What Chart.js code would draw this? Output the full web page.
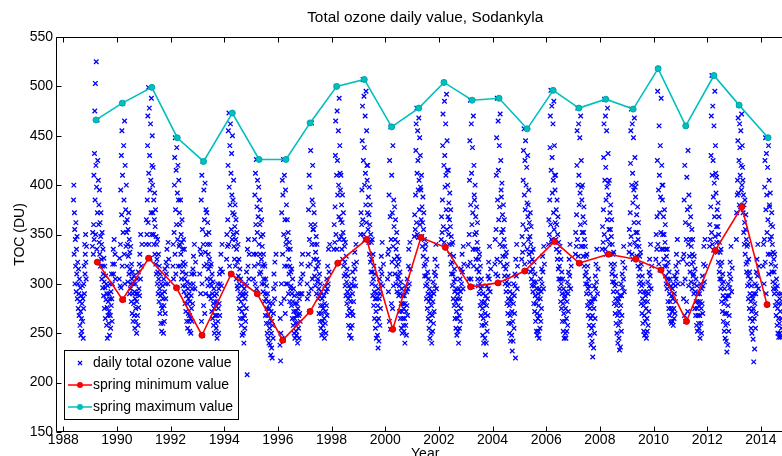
<!DOCTYPE html>
<html>
<head>
<meta charset="utf-8">
<title>Total ozone daily value, Sodankyla</title>
<script src="https://cdn.jsdelivr.net/npm/chart.js@4.4.0/dist/chart.umd.min.js"></script>
<style>
html, body { margin: 0; padding: 0; background: #fff; overflow: hidden; }
#wrap { width: 782px; height: 456px; overflow: hidden; }
canvas { display: block; }
</style>
</head>
<body>
<div id="wrap"><canvas id="myChart" width="800" height="456"></canvas></div>
<script>
// tick labels
const yearTicks = [1988, 1990, 1992, 1994, 1996, 1998, 2000, 2002, 2004, 2006, 2008, 2010, 2012, 2014]
const tocTicks = [150, 200, 250, 300, 350, 400, 450, 500, 550]

// spring minimum / maximum (decimal year, DU)
const springMinYear = [1989.27, 1990.21, 1991.18, 1992.22, 1993.17, 1994.26, 1995.23, 1996.18, 1997.2, 1998.23, 1999.31, 2000.28, 2001.33, 2002.24, 2003.18, 2004.2, 2005.2, 2006.31, 2007.23, 2008.32, 2009.34, 2010.28, 2011.23, 2012.3, 2013.29, 2014.23]
const springMinToc = [322, 284, 326, 296, 248, 310, 290, 243, 272, 321, 345, 254, 347, 337, 297, 301, 313, 343, 321, 330, 325, 314, 262, 334, 378, 279]
const springMaxYear = [1989.22, 1990.2, 1991.3, 1992.25, 1993.23, 1994.3, 1995.3, 1996.3, 1997.2, 1998.19, 1999.22, 2000.24, 2001.25, 2002.19, 2003.24, 2004.24, 2005.29, 2006.26, 2007.22, 2008.22, 2009.24, 2010.17, 2011.2, 2012.25, 2013.19, 2014.27]
const springMaxToc = [466, 483, 499, 448, 424, 473, 426, 426, 463, 500, 507, 459, 478, 504, 486, 488, 457, 496, 478, 487, 477, 518, 460, 511, 481, 448]

// daily total ozone, one row per year, one value every 4 days from the first day
const dailyYears = [1988, 1989, 1990, 1991, 1992, 1993, 1994, 1995, 1996, 1997, 1998, 1999, 2000, 2001, 2002, 2003, 2004, 2005, 2006, 2007, 2008, 2009, 2010, 2011, 2012, 2013, 2014]
const dailyFirstDay = [140, 28, 28, 28, 28, 28, 28, 28, 28, 28, 28, 28, 28, 28, 28, 28, 28, 28, 28, 28, 28, 28, 28, 28, 28, 28, 28]
const dailyStep = 4
const dailyToc = [
  [385,400,330,372,355,300,345,318,362,292,335,310,348,285,322,300,275,315,290,268,305,282,258,296,272,248,288,265,252,280,298,262,285,245,275,300,318,290,340,310,330,350,322,305,338],
  [null,338,352,null,330,360,410,345,432,475,385,503,350,420,525,398,335,466,372,425,322,405,360,380,342,395,330,362,318,348,372,325,340,305,352,318,296,335,310,288,326,302,275,318,296,265,308,284,300,258,290,276,245,298,268,282,260,290,272,248,285,300,268,255,292,278,310,285,262,300,320,null,335,310,null,345,320,null,330,305],
  [null,305,326,null,298,340,395,296,430,370,455,318,410,483,352,284,440,385,330,465,300,420,362,375,338,400,352,318,365,340,302,355,328,372,310,345,290,332,315,295,338,300,282,320,305,270,312,290,262,300,280,308,268,292,255,285,300,275,262,290,250,282,305,268,290,258,312,276,295,320,288,330,null,305,350,null,318,null,340,null],
  [null,340,365,null,350,385,440,470,362,499,412,340,478,430,395,326,462,405,372,488,350,420,450,400,372,418,350,385,340,365,392,330,358,375,320,348,310,340,325,300,345,312,290,330,305,282,318,295,270,310,288,260,300,278,252,290,275,298,260,285,250,305,278,262,292,315,270,300,285,322,310,null,335,318,null,300,342,null,325,null],
  [null,318,340,305,null,352,400,428,330,448,375,310,415,360,438,296,392,345,420,318,385,405,338,372,340,360,318,385,330,350,305,342,365,312,335,298,322,345,318,292,335,305,280,320,298,272,310,288,262,302,280,255,295,270,285,262,290,268,252,282,300,265,250,288,275,310,262,295,280,315,300,328,null,310,340,null,295,null,322,null],
  [null,310,335,null,290,330,385,262,410,300,355,248,424,340,278,395,318,365,270,402,332,290,375,350,320,372,305,340,362,298,330,315,352,288,325,340,300,318,305,285,320,298,272,310,290,265,302,280,258,295,275,250,288,268,282,260,278,255,290,268,245,282,300,262,275,250,295,280,310,268,300,null,315,330,null,298,null,340,312,null],
  [null,325,350,null,338,365,420,455,340,473,398,318,440,380,462,310,412,355,432,390,345,450,372,385,350,405,338,370,325,358,380,318,345,365,305,335,352,298,322,295,340,308,285,325,300,275,315,290,265,305,282,258,298,272,248,288,265,290,250,278,240,295,268,255,285,300,262,290,275,312,298,208,335,null,318,345,null,305,330,null],
  [null,305,330,null,318,345,390,300,412,360,330,426,295,378,352,405,290,368,320,398,340,385,310,360,330,375,312,348,325,365,300,338,318,350,292,330,305,320,300,282,318,290,268,305,285,260,298,275,250,290,268,245,282,260,240,275,255,280,238,265,228,272,250,235,262,225,258,280,245,270,295,310,null,285,322,null,300,null,330,null],
  [238,265,222,250,280,300,372,245,405,330,390,243,426,350,285,410,318,365,270,395,340,300,380,345,318,365,300,335,352,290,325,310,342,282,318,335,295,312,298,278,315,290,265,305,282,258,295,272,250,288,265,245,280,260,272,252,268,248,280,260,240,275,290,255,268,245,285,270,300,262,290,null,305,320,null,290,null,330,310,null],
  [null,300,285,null,318,330,375,290,410,345,272,398,320,435,360,295,463,340,385,305,420,355,380,355,325,372,308,340,360,298,332,315,348,290,325,340,302,318,305,285,322,295,270,310,288,262,300,278,255,292,270,248,285,262,278,258,275,252,288,265,245,280,298,260,272,250,292,278,305,268,295,318,null,300,335,null,312,null,340,null],
  [null,335,360,null,342,378,430,465,350,500,410,335,475,425,390,321,455,400,368,488,345,440,412,395,365,410,348,380,335,362,390,325,352,372,318,345,308,338,322,298,342,310,288,328,302,280,315,292,268,308,285,258,298,275,248,288,270,295,255,282,245,300,272,258,290,312,268,298,282,320,305,null,332,315,null,298,340,null,322,null],
  [null,350,372,null,360,395,445,480,365,507,425,350,490,438,400,345,470,412,380,495,362,455,420,405,372,420,355,388,342,370,398,330,360,380,322,350,312,342,325,300,345,312,288,330,305,278,318,292,265,310,285,255,298,272,245,285,262,290,248,278,235,295,265,242,285,305,258,290,275,315,300,328,null,310,342,null,298,null,320,null],
  [null,305,330,null,292,335,390,262,425,310,368,254,459,345,280,410,322,372,275,440,338,298,385,358,325,378,310,345,365,300,335,318,352,292,328,342,305,320,308,288,325,298,272,312,290,265,302,280,255,295,272,250,288,265,280,258,275,252,288,265,240,280,298,258,272,248,292,278,305,268,295,null,318,335,null,300,null,342,315,null],
  [null,348,370,null,355,390,435,462,362,478,412,350,455,425,395,347,468,405,375,448,360,430,398,395,365,410,348,378,338,362,388,328,355,372,318,345,308,335,320,298,340,308,285,325,300,275,312,290,265,305,282,255,295,270,245,285,262,288,250,278,240,292,268,252,282,302,260,290,272,312,298,325,null,308,340,null,295,null,318,null],
  [null,345,368,null,352,385,440,472,358,504,420,342,485,430,398,337,462,410,375,492,355,445,415,400,368,415,350,382,340,365,392,330,358,375,320,348,310,340,322,298,342,310,285,328,302,278,315,292,265,305,282,255,295,272,248,285,265,290,252,278,240,295,268,255,285,305,262,292,275,315,300,null,330,312,null,295,338,null,320,null],
  [null,318,340,null,305,350,405,445,322,486,380,305,462,412,360,297,438,372,335,470,318,420,390,385,350,400,335,368,325,352,378,315,342,362,305,335,298,325,312,290,330,300,278,318,295,268,305,282,258,298,275,248,290,265,240,280,258,282,245,270,228,288,260,240,278,298,252,285,268,308,295,322,null,305,338,null,292,null,315,null],
  [null,320,345,null,310,355,410,448,325,488,385,308,465,415,365,301,440,378,340,472,322,425,395,388,352,402,338,370,328,355,380,318,345,365,308,338,300,328,315,292,332,302,280,320,298,270,308,285,260,300,278,250,292,268,242,282,260,285,248,272,232,290,262,242,280,300,255,288,270,310,298,225,325,null,308,340,null,295,318,null],
  [null,325,348,null,332,360,405,435,340,457,390,320,425,375,445,313,400,355,418,382,335,430,368,380,345,395,330,362,322,348,372,312,340,358,305,332,298,325,315,292,335,302,280,322,298,272,310,288,262,302,280,252,295,270,248,285,265,290,252,278,245,295,268,255,285,305,262,292,275,315,300,null,328,312,null,295,338,null,320,null],
  [null,340,365,null,350,385,438,470,360,496,415,345,480,428,392,343,462,405,372,485,355,440,410,395,362,410,345,375,335,360,385,325,350,368,315,342,305,332,318,295,338,305,282,325,300,275,312,290,262,305,280,252,295,270,245,285,262,288,250,275,245,292,265,252,282,302,258,290,272,312,298,325,null,308,340,null,295,null,318,null],
  [null,330,352,null,338,370,420,455,345,478,400,328,462,410,380,321,448,392,360,470,338,425,398,385,352,400,338,368,328,352,378,318,345,362,308,338,300,328,312,290,330,300,278,318,295,268,305,282,258,298,275,248,290,265,238,280,255,282,242,268,226,285,258,235,275,298,250,285,265,308,295,320,null,302,335,null,290,null,315,null],
  [null,335,358,null,342,375,428,462,350,487,405,335,470,418,385,330,455,398,365,478,345,432,402,390,355,405,340,372,330,355,380,320,348,365,310,340,302,330,315,292,332,302,280,320,298,270,308,285,260,300,278,250,292,268,240,282,258,285,245,272,233,288,262,236,278,300,252,288,268,310,296,322,null,305,338,null,292,null,316,null],
  [null,332,355,null,340,372,422,455,348,477,400,330,462,412,382,325,448,395,362,468,342,428,398,388,352,402,338,370,328,352,378,318,345,362,308,338,300,328,315,292,332,302,280,320,298,270,308,285,260,300,278,252,292,268,248,282,262,288,250,275,245,292,265,252,282,302,258,290,272,312,298,325,null,308,340,null,295,null,318,null],
  [null,325,350,null,335,368,425,495,340,518,395,320,460,410,372,314,440,388,352,488,335,420,400,385,350,400,335,368,325,350,375,318,342,360,308,335,300,328,318,295,335,305,282,322,300,275,312,290,268,305,282,262,298,275,260,288,272,295,262,285,258,300,275,265,290,308,270,298,282,318,305,330,null,312,345,null,300,null,322,null],
  [null,300,325,null,285,330,385,268,420,305,362,262,460,345,282,408,320,375,272,435,340,298,390,360,328,378,312,345,368,302,338,320,355,295,330,345,308,322,310,290,328,300,275,315,292,268,305,282,258,298,275,252,290,268,282,260,278,255,290,268,245,282,300,260,275,250,295,280,308,270,298,null,320,338,null,302,null,345,318,null],
  [null,338,360,null,345,378,430,470,352,511,410,340,480,425,388,334,460,402,368,495,348,440,412,392,358,408,342,375,332,358,382,322,350,368,312,342,305,332,318,295,335,305,282,322,300,272,310,288,262,302,280,252,295,270,245,285,258,285,242,270,231,288,260,238,278,300,252,288,268,310,296,322,null,305,338,null,292,null,316,null],
  [null,345,372,null,390,405,445,468,392,481,425,380,462,438,410,378,455,420,395,472,400,440,418,405,372,390,352,380,340,362,385,330,355,370,320,345,312,338,322,298,340,308,285,325,300,275,312,290,265,305,282,255,298,272,250,288,262,285,244,275,221,290,265,234,280,300,255,290,270,312,298,325,null,308,340,null,295,null,318,null],
  [null,318,340,null,300,345,398,425,322,448,375,290,432,390,352,279,418,365,330,440,310,405,380,378,345,392,330,360,320,348,372,312,340,358,302,332,295,325,312,290,330,300,278,318,295,268,305,282,258,298,275,250,290,265,246,280,260,285,250,272,246,290,265,255,280]
]

const dailyPoints = []
dailyYears.forEach((yr, k) => {
  dailyToc[k].forEach((v, i) => {
    if (v !== null) dailyPoints.push({ x: yr + (dailyFirstDay[k] + i * dailyStep) / 365.25, y: v })
  })
})
const springMinPoints = springMinYear.map((x, i) => ({ x: x, y: springMinToc[i] }))
const springMaxPoints = springMaxYear.map((x, i) => ({ x: x, y: springMaxToc[i] }))

const fontFamily = "'Liberation Sans', Arial, sans-serif"
const blue = '#0000ff'
const red = '#ff0000'
const cyan = '#00bfbf'

// matlab style box, inward ticks, titles and legend
const matlabAxes = {
  id: 'matlabAxes',
  afterDraw(chart) {
    const ctx = chart.ctx
    const a = chart.chartArea
    const xs = chart.scales.x
    const ys = chart.scales.y
    const L = Math.round(a.left) + 0.5
    const T = Math.round(a.top) + 0.5
    const B = Math.round(a.bottom) - 0.5
    const R = Math.round(a.right) - 0.5
    ctx.save()
    ctx.strokeStyle = '#000'
    ctx.lineWidth = 1
    ctx.beginPath()
    ctx.moveTo(R, T); ctx.lineTo(L, T); ctx.lineTo(L, B); ctx.lineTo(R, B); ctx.lineTo(R, T)
    yearTicks.forEach(v => {
      const px = Math.round(xs.getPixelForValue(v)) + 0.5
      ctx.moveTo(px, B); ctx.lineTo(px, B - 5)
      ctx.moveTo(px, T); ctx.lineTo(px, T + 5)
    })
    tocTicks.forEach(v => {
      const py = Math.round(ys.getPixelForValue(v)) + 0.5
      ctx.moveTo(L, py); ctx.lineTo(L + 5, py)
      ctx.moveTo(R, py); ctx.lineTo(R - 5, py)
    })
    ctx.stroke()

    ctx.fillStyle = '#000'
    ctx.textAlign = 'center'
    ctx.font = '15.4px ' + fontFamily
    ctx.textBaseline = 'alphabetic'
    ctx.fillText('Total ozone daily value, Sodankyla', (a.left + a.right) / 2, 22)
    ctx.font = '14px ' + fontFamily
    ctx.textBaseline = 'top'
    ctx.fillText('Year', (a.left + a.right) / 2, 447)
    ctx.save()
    ctx.translate(20, (a.top + a.bottom) / 2)
    ctx.rotate(-Math.PI / 2)
    ctx.textBaseline = 'middle'
    ctx.fillText('TOC (DU)', 0, 0)
    ctx.restore()

    // legend
    const bx = 64.5, by = 350.5, bw = 174, bh = 69
    ctx.fillStyle = '#fff'
    ctx.fillRect(bx, by, bw, bh)
    ctx.strokeStyle = '#000'
    ctx.strokeRect(bx, by, bw, bh)
    const rows = [
      { y: 363, text: 'daily total ozone value', kind: 'x' },
      { y: 385, text: 'spring minimum value', kind: 'line', color: red },
      { y: 407, text: 'spring maximum value', kind: 'line', color: cyan }
    ]
    rows.forEach(r => {
      if (r.kind === 'x') {
        ctx.strokeStyle = blue
        ctx.lineWidth = 1.2
        ctx.beginPath()
        ctx.moveTo(78, r.y - 2); ctx.lineTo(82, r.y + 2)
        ctx.moveTo(82, r.y - 2); ctx.lineTo(78, r.y + 2)
        ctx.stroke()
      } else {
        ctx.strokeStyle = r.color
        ctx.lineWidth = 1.5
        ctx.beginPath()
        ctx.moveTo(68, r.y); ctx.lineTo(92, r.y)
        ctx.stroke()
        ctx.fillStyle = r.color
        ctx.beginPath()
        ctx.arc(80, r.y, 3, 0, Math.PI * 2)
        ctx.fill()
      }
      ctx.fillStyle = '#000'
      ctx.font = '14px ' + fontFamily
      ctx.textAlign = 'left'
      ctx.textBaseline = 'middle'
      ctx.fillText(r.text, 93, r.y)
    })
    ctx.restore()
  }
}

const ctx = document.getElementById('myChart')
const myChart = new Chart(ctx, {
  type: 'scatter',
  data: {
    datasets: [{
      label: 'daily total ozone value',
      data: dailyPoints,
      showLine: false,
      pointStyle: 'crossRot',
      pointRadius: 3.2,
      borderColor: blue,
      backgroundColor: blue,
      borderWidth: 1.3,
      order: 3
    }, {
      label: 'spring minimum value',
      data: springMinPoints,
      showLine: true,
      borderColor: red,
      backgroundColor: red,
      borderWidth: 1.6,
      pointRadius: 3,
      pointBorderWidth: 1,
      pointBackgroundColor: red,
      pointBorderColor: '#d00000',
      order: 2
    }, {
      label: 'spring maximum value',
      data: springMaxPoints,
      showLine: true,
      borderColor: cyan,
      backgroundColor: cyan,
      borderWidth: 1.6,
      pointRadius: 3,
      pointBorderWidth: 1,
      pointBackgroundColor: cyan,
      pointBorderColor: '#00a5a5',
      order: 1
    }]
  },
  options: {
    responsive: false,
    animation: false,
    events: [],
    layout: { padding: { top: 37, right: 5.6, left: 0, bottom: 0 } },
    plugins: {
      legend: { display: false },
      tooltip: { enabled: false },
      title: { display: false }
    },
    scales: {
      x: {
        type: 'linear',
        min: 1987.73,
        max: 2015.25,
        afterBuildTicks: s => { s.ticks = yearTicks.map(v => ({ value: v })) },
        afterFit: s => { s.height = 24 },
        grid: { display: false, drawTicks: false },
        border: { display: false },
        ticks: { color: '#000', font: { family: fontFamily, size: 14 }, padding: 0, maxRotation: 0, autoSkip: false, callback: v => String(v) }
      },
      y: {
        min: 150,
        max: 550,
        afterBuildTicks: s => { s.ticks = tocTicks.map(v => ({ value: v })) },
        afterFit: s => { s.width = 56 },
        grid: { display: false, drawTicks: false },
        border: { display: false },
        ticks: { color: '#000', font: { family: fontFamily, size: 14 }, padding: 3, callback: v => String(v) }
      }
    }
  },
  plugins: [matlabAxes]
})
</script>
</body>
</html>
